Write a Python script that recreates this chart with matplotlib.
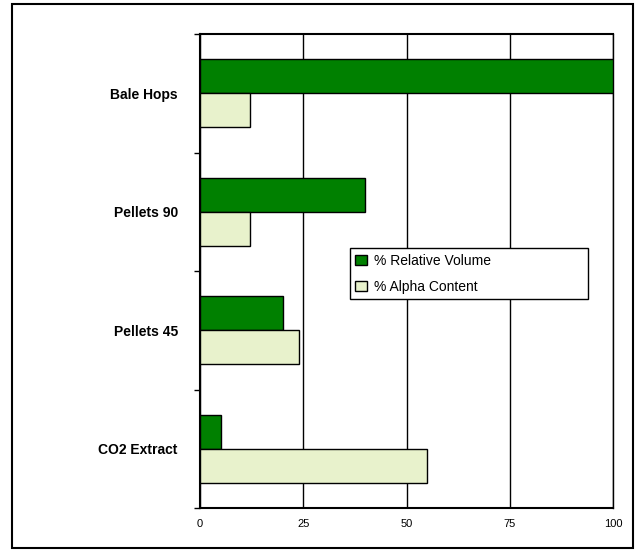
import matplotlib
matplotlib.use('Agg')
import matplotlib.pyplot as plt
from matplotlib.patches import Rectangle

categories = ['Bale Hops', 'Pellets 90', 'Pellets 45', 'CO2 Extract']
rel_volume = [100, 40, 20, 5]
alpha_content = [12, 12, 24, 55]
xticks = [0, 25, 50, 75, 100]

plt.rcParams['font.family'] = ['Liberation Sans', 'DejaVu Sans']

fig = plt.figure(figsize=(6.36, 5.52), dpi=100)
# outer frame
fig.patches.append(Rectangle((12/636, 4/552), 621/636, 544/552, transform=fig.transFigure,
                             fill=False, edgecolor='black', linewidth=1.5))

ax = fig.add_axes([200/636, 1 - 508/552, 413/636, 474/552])

h = 0.287
centers = [i + 0.5 for i in range(len(categories))]
ax.barh([c - h/2 for c in centers], rel_volume, height=h, color='#008000',
        edgecolor='black', linewidth=1, label='% Relative Volume', zorder=3)
ax.barh([c + h/2 for c in centers], alpha_content, height=h, color='#E8F2CC',
        edgecolor='black', linewidth=1, label='% Alpha Content', zorder=3)

ax.set_xlim(0, 100)
ax.set_ylim(len(categories), 0)
ax.set_xticks(xticks)
ax.set_xticklabels([str(t) for t in xticks], fontsize=8)
ax.tick_params(axis='x', length=0, pad=8)
ax.xaxis.grid(True, color='black', linewidth=1, zorder=0)

ax.set_yticks(range(len(categories) + 1))
ax.set_yticklabels([])
ax.set_yticks(centers, minor=True)
ax.set_yticklabels(categories, minor=True, fontsize=10, fontweight='bold')
ax.tick_params(axis='y', which='major', length=4, width=1)
ax.tick_params(axis='y', which='minor', length=0, pad=16)

ax.spines['right'].set_linewidth(1)
for s in ['left', 'bottom', 'top']:
    ax.spines[s].set_linewidth(1.5)

leg = ax.legend(loc='center left', bbox_to_anchor=(0.363, 0.439, 0.576, 0.110),
                mode='expand', fontsize=10,
                frameon=True, fancybox=False, edgecolor='black', framealpha=1,
                handlelength=0.8, handleheight=0.8, handletextpad=0.5,
                borderpad=0.4, labelspacing=0.85, borderaxespad=0)
leg.get_frame().set_linewidth(1)

fig.savefig('out.png', dpi=100)
